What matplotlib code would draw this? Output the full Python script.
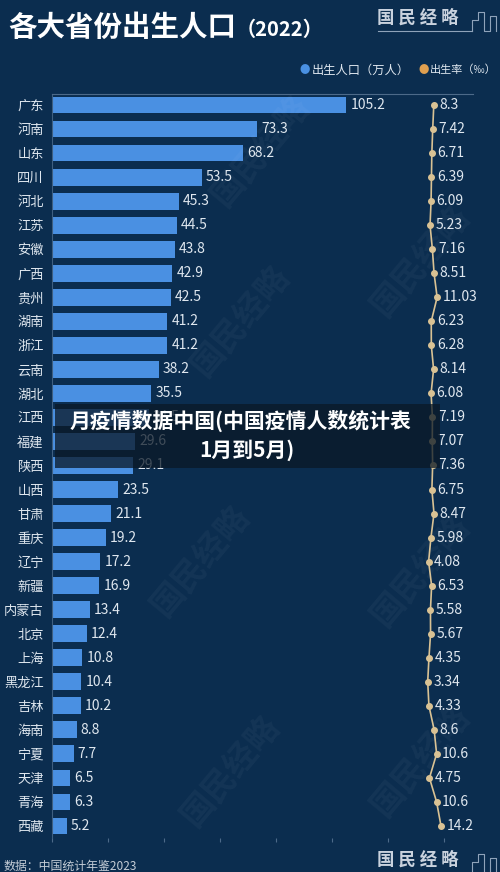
import matplotlib
matplotlib.use("Agg")
import matplotlib.pyplot as plt
from matplotlib.patches import Rectangle
from matplotlib.lines import Line2D

plt.rcParams['font.family'] = ['Noto Sans CJK SC', 'DejaVu Sans']

provinces = ["广东", "河南", "山东", "四川", "河北", "江苏", "安徽", "广西", "贵州", "湖南",
             "浙江", "云南", "湖北", "江西", "福建", "陕西", "山西", "甘肃", "重庆", "辽宁",
             "新疆", "内蒙古", "北京", "上海", "黑龙江", "吉林", "海南", "宁夏", "天津", "青海", "西藏"]
births = [105.2, 73.3, 68.2, 53.5, 45.3, 44.5, 43.8, 42.9, 42.5, 41.2,
          41.2, 38.2, 35.5, 34.5, 29.6, 29.1, 23.5, 21.1, 19.2, 17.2,
          16.9, 13.4, 12.4, 10.8, 10.4, 10.2, 8.8, 7.7, 6.5, 6.3, 5.2]
rates = [8.3, 7.42, 6.71, 6.39, 6.09, 5.23, 7.16, 8.51, 11.03, 6.23,
         6.28, 8.14, 6.08, 7.19, 7.07, 7.36, 6.75, 8.47, 5.98, 4.08,
         6.53, 5.58, 5.67, 4.35, 3.34, 4.33, 8.6, 10.6, 4.75, 10.6, 14.2]
rate_labels = ["8.3", "7.42", "6.71", "6.39", "6.09", "5.23", "7.16", "8.51", "11.03", "6.23",
               "6.28", "8.14", "6.08", "7.19", "7.07", "7.36", "6.75", "8.47", "5.98", "4.08",
               "6.53", "5.58", "5.67", "4.35", "3.34", "4.33", "8.6", "10.6", "4.75", "10.6", "14.2"]

BG = "#0b2d4f"
BAR = "#4a90e2"
LINE = "#d9c294"
TXT = "#dfe7ef"
W, H = 500, 872

fig = plt.figure(figsize=(5.0, 8.72), dpi=100)
fig.patch.set_facecolor(BG)

# faint watermarks
wm_pos = [(260, 150), (420, 260), (240, 320), (420, 570), (200, 560), (420, 760), (230, 770)]
for (x, y) in wm_pos:
    fig.text(x / W, 1 - y / H, "国民经略", fontsize=24, color="#ffffff", alpha=0.04,
             rotation=50, ha="center", va="center", fontweight="bold")

ax_l, ax_r, ax_t, ax_b = 52, 473, 94, 838
ax = fig.add_axes([ax_l / W, 1 - ax_b / H, (ax_r - ax_l) / W, (ax_b - ax_t) / H])
ax.set_facecolor("none")
ypos = list(range(len(provinces)))
ax.barh(ypos, births, height=0.7, color=BAR, zorder=2)
ax.set_xlim(0, 150.4)
ax.set_ylim(30.5, -0.458)
ax.set_yticks(ypos)
ax.set_yticklabels(provinces, fontsize=9.5, color=TXT)
ax.tick_params(axis="y", length=0, pad=6)
ax.xaxis.tick_top()
ax.set_xticks(range(0, 150, 20))
ax.set_xticklabels([])
ax.tick_params(axis="x", length=3, color="#4d6a89", direction="out")
for s in ["right", "bottom"]:
    ax.spines[s].set_visible(False)
ax.spines["top"].set_color("#4d6a89")
ax.spines["left"].set_color("#3f5f80")
for y, v in zip(ypos, births):
    ax.annotate(f"{v}", (v, y), xytext=(3, 0), textcoords="offset points",
                va="center", ha="left", fontsize=10, color=TXT)

ax2 = ax.twiny()
ax2.set_xlim(-303.3, 40.3)
ax2.set_ylim(30.5, -0.458)
ax2.axis("off")
ax2.plot(rates, ypos, color=LINE, lw=1.2, marker="o", ms=4, mfc=LINE, mec=LINE, zorder=3)
for y, v, lab in zip(ypos, rates, rate_labels):
    ax2.annotate(lab, (v, y), xytext=(4, 0), textcoords="offset points",
                 va="center", ha="left", fontsize=10, color=TXT, annotation_clip=False)

# title
fig.text(8 / W, 1 - 28 / H, "各大省份出生人口", fontsize=20.5, fontweight="bold", color="white",
         ha="left", va="center")
fig.text(236 / W, 1 - 29 / H, "（2022）", fontsize=14.5, fontweight="bold", color="white",
         ha="left", va="center")

# legend
fig.text(305 / W, 1 - 70 / H, "●", fontsize=7.5, color=BAR, ha="center", va="center")
fig.text(312 / W, 1 - 70 / H, "出生人口（万人）", fontsize=8.8, color=TXT, ha="left", va="center")
fig.text(424 / W, 1 - 70 / H, "●", fontsize=7.5, color="#e0a050", ha="center", va="center")
fig.text(430 / W, 1 - 70 / H, "出生率（‰）", fontsize=8.0, color=TXT, ha="left", va="center")

# logos
for ly in (18, 860):
    fig.text(377 / W, 1 - ly / H, "国 民 经 略", fontsize=12.5, color="#c9d2de", ha="left",
             va="center", fontweight="bold")
    fig.add_artist(Line2D([378 / W, 472 / W], [1 - (ly + 13) / H] * 2, color="#8fa3ba", lw=0.8))
    bx = [472, 472, 478, 478, 484, 484, 490, 490, 496, 496]
    by = [ly + 13, ly + 2, ly + 2, ly - 6, ly - 6, ly + 13, ly + 13, ly - 2, ly - 2, ly + 13]
    fig.add_artist(Line2D([v / W for v in bx], [1 - v / H for v in by], color="#8fa3ba", lw=0.8))

# source
fig.text(3 / W, 1 - 866 / H, "数据：中国统计年鉴2023", fontsize=8.6, color="#c3ccd6",
         ha="left", va="center")

# overlay box
fig.add_artist(Rectangle((55 / W, 1 - 468 / H), (440 - 55) / W, (468 - 404) / H,
                         transform=fig.transFigure, facecolor="#0a1826", alpha=0.75,
                         edgecolor="none", zorder=10))
fig.text(240 / W, 1 - 421 / H, "月疫情数据中国(中国疫情人数统计表", fontsize=15,
         fontweight="bold", color="white", ha="center", va="center", zorder=11)
fig.text(247 / W, 1 - 450 / H, "1月到5月)", fontsize=15, fontweight="bold",
         color="white", ha="center", va="center", zorder=11)

fig.savefig("out.png", dpi=100, facecolor=BG)
